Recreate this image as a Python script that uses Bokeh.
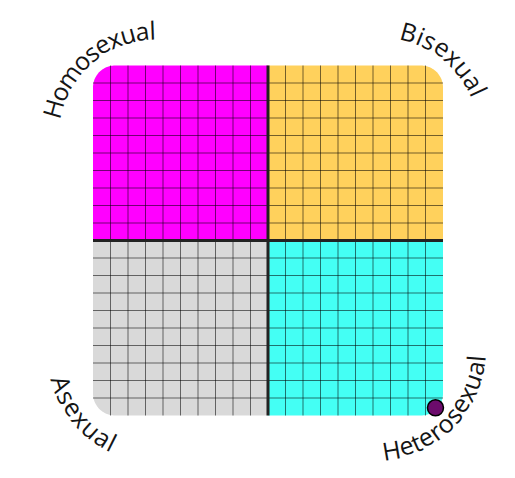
import numpy as np
from bokeh.plotting import figure
from bokeh.models import Range1d
from bokeh.embed import file_html
from bokeh.resources import INLINE
from bokeh.core.properties import value

# ---------------- data ----------------
quadrant_labels = ["Homosexual", "Bisexual", "Asexual", "Heterosexual"]
quadrant_colors = ["#ff00ff", "#ffd15c", "#d9d9d9", "#44fff4"]
axis_min, axis_max = -10, 10
grid_ticks = [-9, -8, -7, -6, -5, -4, -3, -2, -1, 1, 2, 3, 4, 5, 6, 7, 8, 9]
point_x = [9.57]
point_y = [-9.56]
point_color = "#6c0b6c"

# ---------------- layout ----------------
W, H = 495, 462
S = 17.5                 # px per unit
CX_IMG, CY_IMG = 267.5, 240.0


def to_data(px, py):
    return (px - CX_IMG) / S, (CY_IMG - py) / S


x0d, _ = to_data(0, 0)
x1d, _ = to_data(W, 0)
_, y1d = to_data(0, 0)
_, y0d = to_data(0, H)

p = figure(width=W, height=H, output_backend="svg", toolbar_location=None,
           x_range=Range1d(x0d, x1d), y_range=Range1d(y0d, y1d),
           x_axis_location=None, y_axis_location=None, min_border=0,
           background_fill_color="white", border_fill_color="white")
p.outline_line_color = None
p.grid.visible = False


def quad_poly(xa, xb, ya, yb, corner, r, n=30):
    pts = []
    for c in ["bl", "br", "tr", "tl"]:
        if c == corner:
            if c == "tl":
                ac, a0, a1 = (xa + r, yb - r), 90, 180
            elif c == "tr":
                ac, a0, a1 = (xb - r, yb - r), 0, 90
            elif c == "br":
                ac, a0, a1 = (xb - r, ya + r), -90, 0
            else:
                ac, a0, a1 = (xa + r, ya + r), 180, 270
            for t in np.radians(np.linspace(a0, a1, n)):
                pts.append((ac[0] + r * np.cos(t), ac[1] + r * np.sin(t)))
        else:
            pts.append({"bl": (xa, ya), "br": (xb, ya),
                        "tr": (xb, yb), "tl": (xa, yb)}[c])
    return [q[0] for q in pts], [q[1] for q in pts]


rad = 22 / S
mid = (axis_min + axis_max) / 2
extents = [
    (axis_min, mid, mid, axis_max, "tl"),
    (mid, axis_max, mid, axis_max, "tr"),
    (axis_min, mid, axis_min, mid, "bl"),
    (mid, axis_max, axis_min, mid, "br"),
]
xs, ys = [], []
for (xa, xb, ya, yb, c) in extents:
    qx, qy = quad_poly(xa, xb, ya, yb, c, rad)
    xs.append(qx)
    ys.append(qy)
p.patches(xs, ys, fill_color=quadrant_colors, line_color=None)

# grid
gx0 = list(grid_ticks) + [axis_min] * len(grid_ticks)
gx1 = list(grid_ticks) + [axis_max] * len(grid_ticks)
gy0 = [axis_min] * len(grid_ticks) + list(grid_ticks)
gy1 = [axis_max] * len(grid_ticks) + list(grid_ticks)
p.segment(gx0, gy0, gx1, gy1, line_color="black", line_alpha=0.55, line_width=1)

# centre lines
p.segment([mid, axis_min], [axis_min, mid], [mid, axis_max], [axis_max, mid],
          line_color="#222222", line_width=3)

# point
p.scatter(point_x, point_y, size=16, fill_color=point_color,
          line_color="black", line_width=1.5)

# curved labels
ADV = {"H": .739, "o": .604, "m": .923, "s": .488, "e": .560, "x": .513,
       "u": .631, "a": .556, "l": .266, "B": .656, "i": .253, "A": .633,
       "t": .356, "r": .408}
label_geom = {
    # arc centre (img px), radius (px), first / last glyph angle (deg), clockwise?
    "Homosexual": ((156, 137), 108.0, 164.4, 92.1, True),
    "Bisexual": ((379, 137), 110.0, 74.4, 24.7, True),
    "Asexual": ((156, 353), 99.0, 197.8, 243.5, False),
    "Heterosexual": ((374, 349), 101.4, 279.6, 354.9, False),
}
tx, ty, tt, ta = [], [], [], []
for lab in quadrant_labels:
    (cpx, cpy), R, a_first, a_last, cw = label_geom[lab]
    adv = np.array([ADV.get(ch, .55) for ch in lab])
    centers = np.cumsum(np.concatenate([[0], adv[:-1]])) + adv / 2
    frac = (centers - centers[0]) / (centers[-1] - centers[0])
    for ch, f in zip(lab, frac):
        th = np.radians(a_first + (a_last - a_first) * f)
        px = cpx + R * np.cos(th)
        py = cpy - R * np.sin(th)
        dx, dy = to_data(px, py)
        tx.append(dx)
        ty.append(dy)
        tt.append(ch)
        ta.append(th - np.pi / 2 if cw else th + np.pi / 2)

p.text(tx, ty, text=tt, angle=ta, text_font=value("Open Sans"),
       text_font_size="25px", text_align="center", text_baseline="middle",
       text_color="#151515")

open("out.html", "w").write(file_html(p, INLINE))
